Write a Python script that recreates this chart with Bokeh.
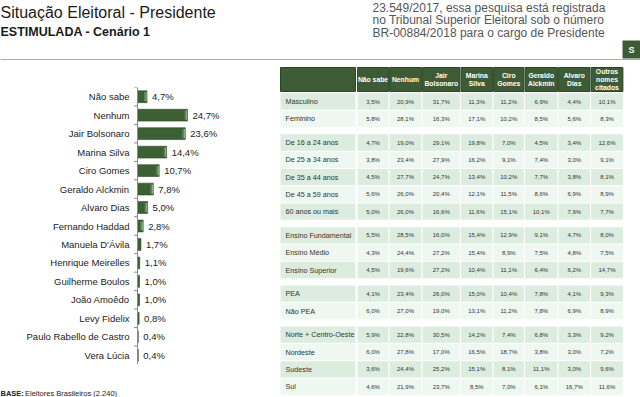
from bokeh.plotting import figure
from bokeh.models import Range1d, FactorRange, Span, Spacer
from bokeh.layouts import column, row
from bokeh.embed import file_html
from bokeh.resources import INLINE
from bokeh.core.properties import value

# ---------------- data ----------------
title_text = "Situação Eleitoral - Presidente"
subtitle_text = "ESTIMULADA - Cenário 1"
note_lines = [
    "23.549/2017, essa pesquisa está registrada",
    "no Tribunal Superior Eleitoral sob o número",
    "BR-00884/2018 para o cargo de Presidente",
]
button_text = "S"
base_label = "BASE:"
base_text = "Eleitores Brasileiros (2.240)"

candidates = ["Não sabe", "Nenhum", "Jair Bolsonaro", "Marina Silva", "Ciro Gomes",
              "Geraldo Alckmin", "Alvaro Dias", "Fernando Haddad", "Manuela D'Ávila",
              "Henrique Meirelles", "Guilherme Boulos", "João Amoêdo", "Levy Fidelix",
              "Paulo Rabello de Castro", "Vera Lúcia"]
votes = [4.7, 24.7, 23.6, 14.4, 10.7, 7.8, 5.0, 2.8, 1.7, 1.1, 1.0, 1.0, 0.8, 0.4, 0.4]

table_columns = ["Não sabe", "Nenhum", "Jair\nBolsonaro", "Marina\nSilva", "Ciro\nGomes",
                 "Geraldo\nAlckmin", "Alvaro\nDias", "Outros\nnomes\ncitados"]
row_labels = ["Masculino", "Feminino",
              "De 16 a 24 anos", "De 25 a 34 anos", "De 35 a 44 anos", "De 45 a 59 anos", "60 anos ou mais",
              "Ensino Fundamental", "Ensino Médio", "Ensino Superior",
              "PEA", "Não PEA",
              "Norte + Centro-Oeste", "Nordeste", "Sudeste", "Sul"]
row_group = [0, 0, 1, 1, 1, 1, 1, 2, 2, 2, 3, 3, 4, 4, 4, 4]

nao_sabe  = [3.5, 5.8, 4.7, 3.8, 4.5, 5.6, 5.0, 5.5, 4.3, 4.5, 4.1, 6.0, 5.9, 6.0, 3.6, 4.6]
nenhum    = [20.9, 28.1, 19.0, 23.4, 27.7, 26.0, 26.0, 28.5, 24.4, 19.6, 23.4, 27.0, 22.8, 27.8, 24.4, 21.9]
bolsonaro = [31.7, 16.3, 29.1, 27.9, 24.7, 20.4, 16.6, 16.0, 27.2, 27.2, 26.0, 19.0, 30.5, 17.0, 25.2, 23.7]
marina    = [11.3, 17.1, 19.8, 16.2, 13.4, 12.1, 11.6, 15.4, 15.4, 10.4, 15.0, 13.1, 14.2, 16.5, 15.1, 8.5]
ciro      = [11.2, 10.2, 7.0, 9.1, 10.2, 11.5, 15.1, 12.9, 8.9, 11.1, 10.4, 11.2, 7.4, 18.7, 8.1, 7.0]
alckmin   = [6.9, 8.5, 4.5, 7.4, 7.7, 8.6, 10.1, 9.1, 7.5, 6.4, 7.8, 7.8, 6.8, 3.8, 11.1, 6.1]
alvaro    = [4.4, 5.6, 3.4, 3.0, 3.8, 6.9, 7.9, 4.7, 4.8, 6.2, 4.1, 6.9, 3.3, 3.0, 3.0, 16.7]
outros    = [10.1, 8.3, 12.6, 9.1, 8.1, 8.9, 7.7, 8.0, 7.5, 14.7, 9.3, 8.9, 9.2, 7.2, 9.6, 11.6]
table_values = [nao_sabe, nenhum, bolsonaro, marina, ciro, alckmin, alvaro, outros]

# ---------------- style ----------------
FONT = value("Liberation Sans")
DARK_GREEN = "#3d5c35"
ROW_DARK = "#dcede0"
ROW_LIGHT = "#eef7f0"


def pct(v):
    return f"{v:.1f}%".replace(".", ",")


def blank(width, height, xr, yr):
    f = figure(width=width, height=height, x_range=xr, y_range=yr,
               toolbar_location=None, output_backend="svg", min_border=0,
               outline_line_color=None, x_axis_location=None, y_axis_location=None)
    f.grid.grid_line_color = None
    return f


# ---------------- header ----------------
head = blank(640, 60, Range1d(0, 640), Range1d(60, 0))
head.text(x=[0], y=[12], text=[title_text], text_font=FONT, text_font_size="16px",
          text_baseline="middle", text_color="#1a1a1a")
head.text(x=[0], y=[31], text=[subtitle_text], text_font=FONT, text_font_size="12.5px",
          text_font_style="bold", text_baseline="middle", text_color="#1a1a1a")
head.text(x=[372] * 3, y=[7, 19.5, 32], text=note_lines, text_font=FONT,
          text_font_size="12px", text_baseline="middle", text_color="#555555")
head.quad(left=[622], right=[660], top=[40], bottom=[58], fill_color=DARK_GREEN, line_color=None)
head.text(x=[628], y=[49], text=[button_text], text_font=FONT, text_font_size="9px",
          text_font_style="bold", text_baseline="middle", text_color="white")
head.segment(x0=[0], x1=[640], y0=[59.5], y1=[59.5], line_color="#a6ae9c", line_width=2)

# ---------------- bar chart ----------------
PX = 1 / 2.024  # percent units per screen pixel
bar = blank(276, 277, Range1d(-137 * PX, 139 * PX),
            FactorRange(factors=list(reversed(candidates)), range_padding=0))
bar.hbar(y=candidates, left=0, right=votes, height=0.64, fill_color="#3c5f34",
         line_color="#2d4a27", line_width=0.6)
# light sheen at the end of the longer bars
sheen = [(c, v) for c, v in zip(candidates, votes) if v >= 2]
bar.hbar(y=[c for c, _ in sheen], left=[v - 3 * PX for _, v in sheen],
         right=[v - 1.5 * PX for _, v in sheen], height=0.5, fill_color="#5f8257", line_color=None)
bar.hbar(y=[c for c, _ in sheen], left=[v - 1.5 * PX for _, v in sheen],
         right=[v - 0.3 * PX for _, v in sheen], height=0.5, fill_color="#93b28b", line_color=None)
bar.text(x=votes, y=candidates, text=[pct(v) for v in votes], x_offset=5,
         text_font=FONT, text_font_size="9.5px", text_baseline="middle", text_color="#222222")
bar.text(x=[0] * len(candidates), y=candidates, text=candidates, x_offset=-8,
         text_font=FONT, text_font_size="9.5px", text_align="right",
         text_baseline="middle", text_color="#222222")
bar.add_layout(Span(location=0, dimension="height", line_color="#8a8a8a", line_width=1))
tick_y = [(c, -0.5) for c in candidates] + [(candidates[0], 0.5)]
bar.segment(x0=[-3.5 * PX] * len(tick_y), x1=[0] * len(tick_y), y0=tick_y, y1=tick_y,
            line_color="#8a8a8a", line_width=1)

base = blank(276, 33, Range1d(0, 276), Range1d(33, 0))
base.text(x=[0], y=[29], text=[base_label], text_font=FONT, text_font_size="7.5px",
          text_font_style="bold", text_baseline="middle", text_color="#222222")
base.text(x=[24.5], y=[29], text=[base_text], text_font=FONT, text_font_size="7.5px",
          text_baseline="middle", text_color="#222222")

left_col = column(Spacer(width=276, height=27), bar, base)

# ---------------- table ----------------
tab = blank(364, 337, Range1d(276, 640), Range1d(397, 60))
LABEL_X0, LABEL_X1 = 280, 355
COL_EDGES = [356.5, 388.5, 421.5, 460, 492.5, 524, 557.5, 590, 623]
CELL_GAP = 1.2
HEAD_Y, HEAD_H = 79, 24
ROW_Y0, ROW_PITCH, GROUP_GAP, ROW_H = 101, 17.3, 6.4, 16.3

col_x = [(COL_EDGES[j] + COL_EDGES[j + 1]) / 2 for j in range(len(table_columns))]
col_w = [COL_EDGES[j + 1] - COL_EDGES[j] - CELL_GAP for j in range(len(table_columns))]
row_y = [ROW_Y0 + i * ROW_PITCH + g * GROUP_GAP for i, g in enumerate(row_group)]
row_fill = []
for i, g in enumerate(row_group):
    k = i - row_group.index(g)
    row_fill.append(ROW_DARK if k % 2 == 0 else ROW_LIGHT)

# header
tab.rect(x=[(LABEL_X0 + LABEL_X1) / 2] + col_x, y=[HEAD_Y] * (len(col_x) + 1),
         width=[LABEL_X1 - LABEL_X0] + col_w, height=HEAD_H,
         fill_color=DARK_GREEN, line_color="#2b4526", line_width=1)
tab.text(x=col_x, y=[HEAD_Y] * len(col_x), text=table_columns, text_font=FONT,
         text_font_size="6.8px", text_font_style="bold", text_align="center",
         text_baseline="middle", text_color="white", text_line_height=1.1)

# body
tab.rect(x=[(LABEL_X0 + LABEL_X1) / 2] * len(row_y), y=row_y, width=LABEL_X1 - LABEL_X0,
         height=ROW_H, fill_color=row_fill, line_color=None)
tab.text(x=[LABEL_X0 + 5] * len(row_y), y=row_y, text=row_labels, text_font=FONT,
         text_font_size="7.2px", text_baseline="middle", text_color="#333333")
for j, col in enumerate(table_values):
    tab.rect(x=[col_x[j]] * len(row_y), y=row_y, width=col_w[j], height=ROW_H,
             fill_color=row_fill, line_color=None)
    tab.text(x=[col_x[j]] * len(row_y), y=row_y, text=[pct(v) for v in col], text_font=FONT,
             text_font_size="6px", text_align="center", text_baseline="middle",
             text_color="#333333")

layout = column(head, row(left_col, tab))
open("out.html", "w").write(file_html(layout, INLINE))
